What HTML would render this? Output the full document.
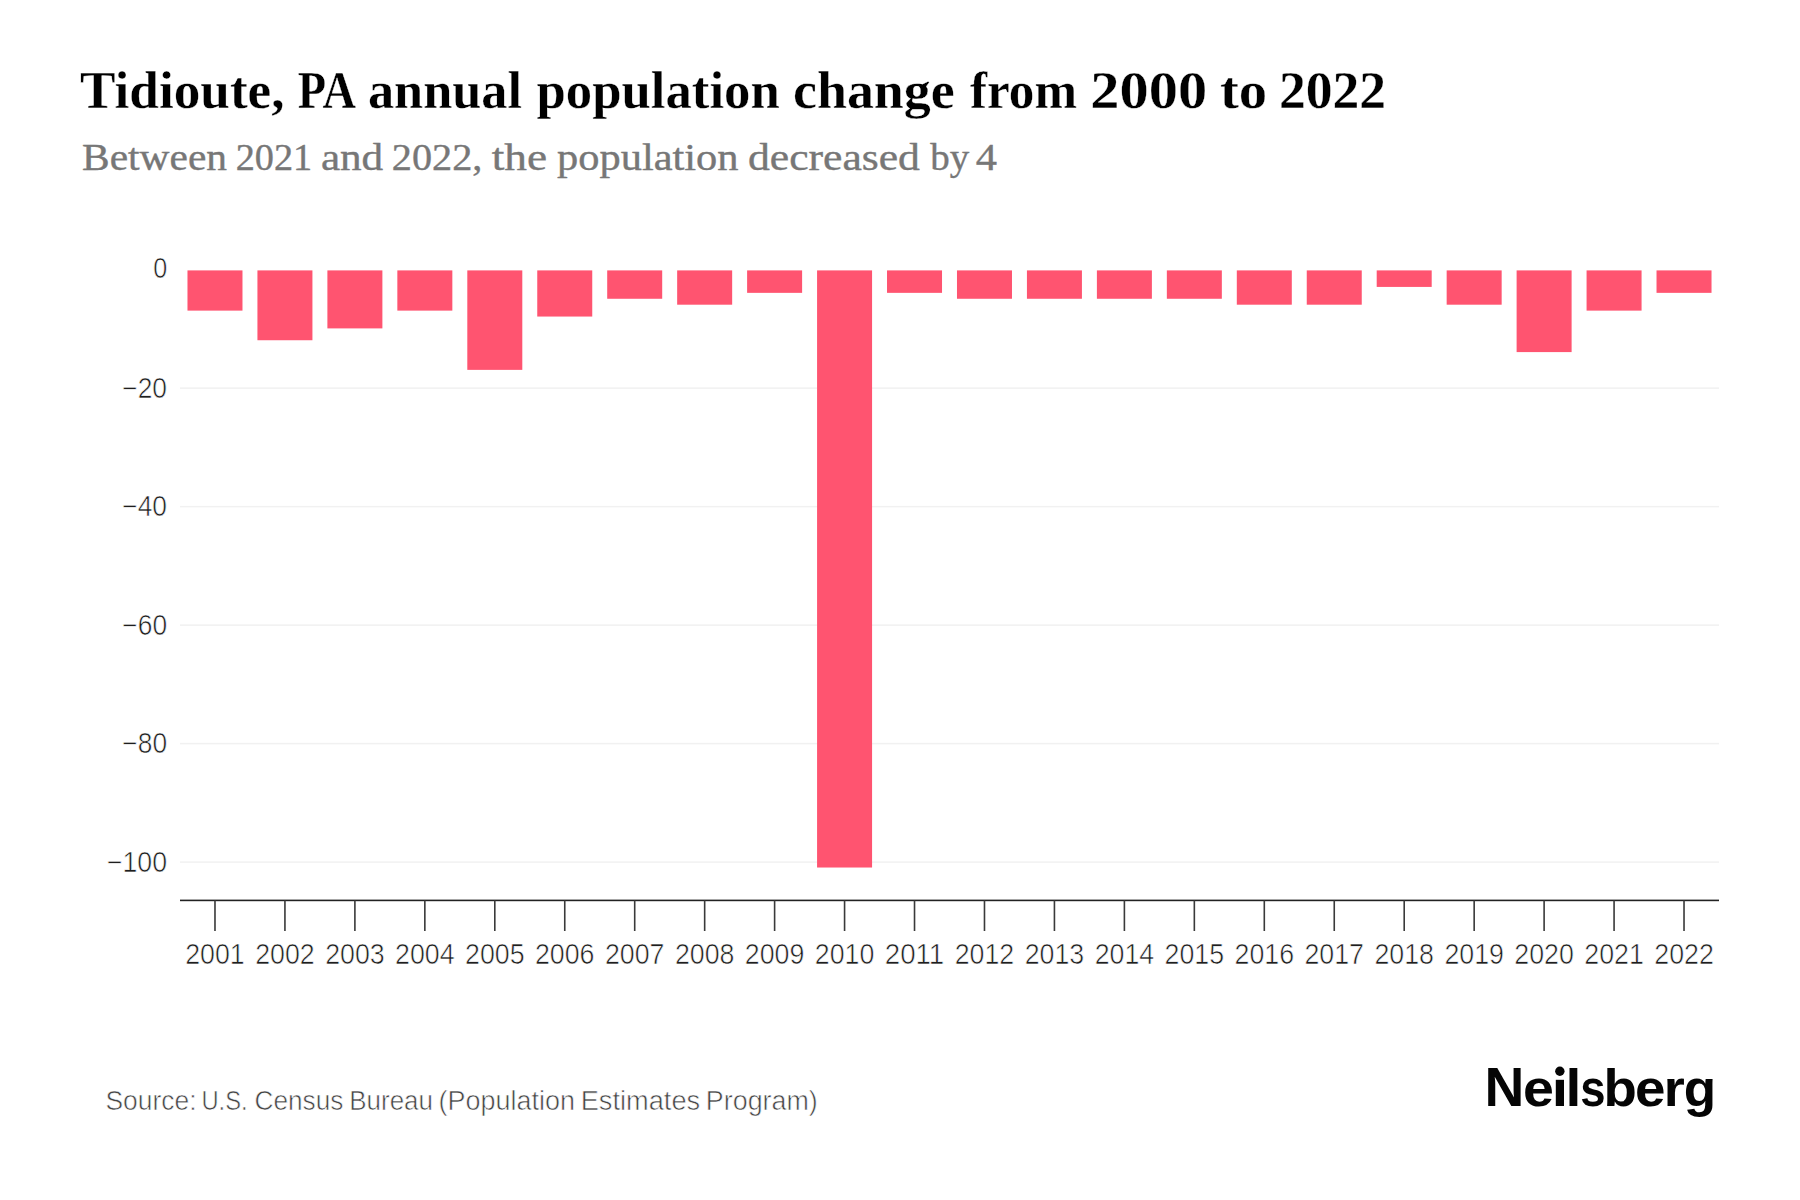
<!DOCTYPE html>
<html><head><meta charset="utf-8"><style>
html,body{margin:0;padding:0;background:#fff;}
body{width:1800px;height:1200px;overflow:hidden;}
svg{display:block;}
.xl,.yl{font-family:"Liberation Sans",sans-serif;font-size:28.8px;fill:#1e1e1e;stroke:#fff;stroke-width:0.6px;}
.title{font-family:"Liberation Serif",serif;font-weight:bold;font-size:52px;fill:#000;stroke:#fff;stroke-width:0.3px;}
.sub{font-family:"Liberation Serif",serif;font-size:38px;fill:#777;stroke:#777;stroke-width:0.4px;}
.src{font-family:"Liberation Sans",sans-serif;font-size:27px;fill:#444;stroke:#fff;stroke-width:0.6px;}
.logo{font-family:"Liberation Sans",sans-serif;font-weight:bold;font-size:52px;fill:#050505;}
</style></head><body>
<svg width="1800" height="1200" viewBox="0 0 1800 1200">
<rect width="1800" height="1200" fill="#fff"/>
<text x="79.98" y="108" class="title" textLength="204.56" lengthAdjust="spacingAndGlyphs">Tidioute,</text>
<text x="297.69" y="108" class="title" textLength="58.31" lengthAdjust="spacingAndGlyphs">PA</text>
<text x="367.97" y="108" class="title" textLength="154.05" lengthAdjust="spacingAndGlyphs">annual</text>
<text x="536.49" y="108" class="title" textLength="243.27" lengthAdjust="spacingAndGlyphs">population</text>
<text x="792.96" y="108" class="title" textLength="161.82" lengthAdjust="spacingAndGlyphs">change</text>
<text x="970.00" y="108" class="title" textLength="107.01" lengthAdjust="spacingAndGlyphs">from</text>
<text x="1090.37" y="108" class="title" textLength="116.70" lengthAdjust="spacingAndGlyphs">2000</text>
<text x="1219.93" y="108" class="title" textLength="47.22" lengthAdjust="spacingAndGlyphs">to</text>
<text x="1278.92" y="108" class="title" textLength="107.16" lengthAdjust="spacingAndGlyphs">2022</text>
<text x="82.07" y="170" class="sub" textLength="144.95" lengthAdjust="spacingAndGlyphs">Between</text>
<text x="235.70" y="170" class="sub" textLength="76.53" lengthAdjust="spacingAndGlyphs">2021</text>
<text x="320.93" y="170" class="sub" textLength="62.25" lengthAdjust="spacingAndGlyphs">and</text>
<text x="391.82" y="170" class="sub" textLength="90.50" lengthAdjust="spacingAndGlyphs">2022,</text>
<text x="491.72" y="170" class="sub" textLength="55.32" lengthAdjust="spacingAndGlyphs">the</text>
<text x="557.08" y="170" class="sub" textLength="181.44" lengthAdjust="spacingAndGlyphs">population</text>
<text x="747.98" y="170" class="sub" textLength="171.94" lengthAdjust="spacingAndGlyphs">decreased</text>
<text x="930.36" y="170" class="sub" textLength="38.95" lengthAdjust="spacingAndGlyphs">by</text>
<text x="975.86" y="170" class="sub" textLength="21.24" lengthAdjust="spacingAndGlyphs">4</text>
<text x="105.51" y="1110" class="src" textLength="91.02" lengthAdjust="spacingAndGlyphs">Source:</text>
<text x="201.48" y="1110" class="src" textLength="46.13" lengthAdjust="spacingAndGlyphs">U.S.</text>
<text x="254.51" y="1110" class="src" textLength="88.85" lengthAdjust="spacingAndGlyphs">Census</text>
<text x="349.27" y="1110" class="src" textLength="83.74" lengthAdjust="spacingAndGlyphs">Bureau</text>
<text x="438.53" y="1110" class="src" textLength="136.43" lengthAdjust="spacingAndGlyphs">(Population</text>
<text x="580.67" y="1110" class="src" textLength="119.50" lengthAdjust="spacingAndGlyphs">Estimates</text>
<text x="705.86" y="1110" class="src" textLength="111.92" lengthAdjust="spacingAndGlyphs">Program)</text>
<text x="153.26" y="277.95" class="yl" textLength="14.00" lengthAdjust="spacingAndGlyphs">0</text>
<text x="122.34" y="397.64" class="yl" textLength="44.71" lengthAdjust="spacingAndGlyphs">−20</text>
<text x="122.34" y="516.13" class="yl" textLength="44.71" lengthAdjust="spacingAndGlyphs">−40</text>
<text x="122.35" y="634.62" class="yl" textLength="44.70" lengthAdjust="spacingAndGlyphs">−60</text>
<text x="122.35" y="753.11" class="yl" textLength="44.70" lengthAdjust="spacingAndGlyphs">−80</text>
<text x="106.91" y="871.6" class="yl" textLength="60.16" lengthAdjust="spacingAndGlyphs">−100</text>
<text x="1484.59" y="1106" class="logo" style="font-size:54.8px" textLength="39.83" lengthAdjust="spacingAndGlyphs">N</text>
<text x="1523.03" y="1106" class="logo" textLength="30.91" lengthAdjust="spacingAndGlyphs">e</text>
<text x="1565.41" y="1106" class="logo" textLength="15.86" lengthAdjust="spacingAndGlyphs">l</text>
<text x="1580.17" y="1106" class="logo" textLength="25.30" lengthAdjust="spacingAndGlyphs">s</text>
<text x="1603.63" y="1106" class="logo" textLength="33.36" lengthAdjust="spacingAndGlyphs">b</text>
<text x="1635.09" y="1106" class="logo" textLength="30.46" lengthAdjust="spacingAndGlyphs">e</text>
<text x="1663.83" y="1106" class="logo" textLength="21.04" lengthAdjust="spacingAndGlyphs">r</text>
<text x="1683.74" y="1106" class="logo" textLength="32.38" lengthAdjust="spacingAndGlyphs">g</text>
<rect x="180.0" y="387.39" width="1539.0" height="1.5" fill="#f1f1f1"/>
<rect x="180.0" y="505.88" width="1539.0" height="1.5" fill="#f1f1f1"/>
<rect x="180.0" y="624.37" width="1539.0" height="1.5" fill="#f1f1f1"/>
<rect x="180.0" y="742.86" width="1539.0" height="1.5" fill="#f1f1f1"/>
<rect x="180.0" y="861.35" width="1539.0" height="1.5" fill="#f1f1f1"/>
<rect x="187.48" y="270.40" width="55.0" height="40.22" fill="#FF5470"/>
<rect x="257.43" y="270.40" width="55.0" height="69.84" fill="#FF5470"/>
<rect x="327.39" y="270.40" width="55.0" height="58.00" fill="#FF5470"/>
<rect x="397.34" y="270.40" width="55.0" height="40.22" fill="#FF5470"/>
<rect x="467.30" y="270.40" width="55.0" height="99.47" fill="#FF5470"/>
<rect x="537.25" y="270.40" width="55.0" height="46.15" fill="#FF5470"/>
<rect x="607.20" y="270.40" width="55.0" height="28.37" fill="#FF5470"/>
<rect x="677.16" y="270.40" width="55.0" height="34.30" fill="#FF5470"/>
<rect x="747.11" y="270.40" width="55.0" height="22.45" fill="#FF5470"/>
<rect x="817.07" y="270.40" width="55.0" height="597.12" fill="#FF5470"/>
<rect x="887.02" y="270.40" width="55.0" height="22.45" fill="#FF5470"/>
<rect x="956.98" y="270.40" width="55.0" height="28.37" fill="#FF5470"/>
<rect x="1026.93" y="270.40" width="55.0" height="28.37" fill="#FF5470"/>
<rect x="1096.89" y="270.40" width="55.0" height="28.37" fill="#FF5470"/>
<rect x="1166.84" y="270.40" width="55.0" height="28.37" fill="#FF5470"/>
<rect x="1236.80" y="270.40" width="55.0" height="34.30" fill="#FF5470"/>
<rect x="1306.75" y="270.40" width="55.0" height="34.30" fill="#FF5470"/>
<rect x="1376.70" y="270.40" width="55.0" height="16.52" fill="#FF5470"/>
<rect x="1446.66" y="270.40" width="55.0" height="34.30" fill="#FF5470"/>
<rect x="1516.61" y="270.40" width="55.0" height="81.69" fill="#FF5470"/>
<rect x="1586.57" y="270.40" width="55.0" height="40.22" fill="#FF5470"/>
<rect x="1656.52" y="270.40" width="55.0" height="22.45" fill="#FF5470"/>
<rect x="180.0" y="899.60" width="1539.0" height="1.6" fill="#222"/>
<rect x="214.18" y="900.4" width="1.6" height="30.60" fill="#3a3a3a"/>
<text x="214.98" y="964" text-anchor="middle" class="xl" textLength="59.5" lengthAdjust="spacingAndGlyphs">2001</text>
<rect x="284.13" y="900.4" width="1.6" height="30.60" fill="#3a3a3a"/>
<text x="284.93" y="964" text-anchor="middle" class="xl" textLength="59.5" lengthAdjust="spacingAndGlyphs">2002</text>
<rect x="354.09" y="900.4" width="1.6" height="30.60" fill="#3a3a3a"/>
<text x="354.89" y="964" text-anchor="middle" class="xl" textLength="59.5" lengthAdjust="spacingAndGlyphs">2003</text>
<rect x="424.04" y="900.4" width="1.6" height="30.60" fill="#3a3a3a"/>
<text x="424.84" y="964" text-anchor="middle" class="xl" textLength="59.5" lengthAdjust="spacingAndGlyphs">2004</text>
<rect x="494.00" y="900.4" width="1.6" height="30.60" fill="#3a3a3a"/>
<text x="494.80" y="964" text-anchor="middle" class="xl" textLength="59.5" lengthAdjust="spacingAndGlyphs">2005</text>
<rect x="563.95" y="900.4" width="1.6" height="30.60" fill="#3a3a3a"/>
<text x="564.75" y="964" text-anchor="middle" class="xl" textLength="59.5" lengthAdjust="spacingAndGlyphs">2006</text>
<rect x="633.90" y="900.4" width="1.6" height="30.60" fill="#3a3a3a"/>
<text x="634.70" y="964" text-anchor="middle" class="xl" textLength="59.5" lengthAdjust="spacingAndGlyphs">2007</text>
<rect x="703.86" y="900.4" width="1.6" height="30.60" fill="#3a3a3a"/>
<text x="704.66" y="964" text-anchor="middle" class="xl" textLength="59.5" lengthAdjust="spacingAndGlyphs">2008</text>
<rect x="773.81" y="900.4" width="1.6" height="30.60" fill="#3a3a3a"/>
<text x="774.61" y="964" text-anchor="middle" class="xl" textLength="59.5" lengthAdjust="spacingAndGlyphs">2009</text>
<rect x="843.77" y="900.4" width="1.6" height="30.60" fill="#3a3a3a"/>
<text x="844.57" y="964" text-anchor="middle" class="xl" textLength="59.5" lengthAdjust="spacingAndGlyphs">2010</text>
<rect x="913.72" y="900.4" width="1.6" height="30.60" fill="#3a3a3a"/>
<text x="914.52" y="964" text-anchor="middle" class="xl" textLength="59.5" lengthAdjust="spacingAndGlyphs">2011</text>
<rect x="983.68" y="900.4" width="1.6" height="30.60" fill="#3a3a3a"/>
<text x="984.48" y="964" text-anchor="middle" class="xl" textLength="59.5" lengthAdjust="spacingAndGlyphs">2012</text>
<rect x="1053.63" y="900.4" width="1.6" height="30.60" fill="#3a3a3a"/>
<text x="1054.43" y="964" text-anchor="middle" class="xl" textLength="59.5" lengthAdjust="spacingAndGlyphs">2013</text>
<rect x="1123.59" y="900.4" width="1.6" height="30.60" fill="#3a3a3a"/>
<text x="1124.39" y="964" text-anchor="middle" class="xl" textLength="59.5" lengthAdjust="spacingAndGlyphs">2014</text>
<rect x="1193.54" y="900.4" width="1.6" height="30.60" fill="#3a3a3a"/>
<text x="1194.34" y="964" text-anchor="middle" class="xl" textLength="59.5" lengthAdjust="spacingAndGlyphs">2015</text>
<rect x="1263.50" y="900.4" width="1.6" height="30.60" fill="#3a3a3a"/>
<text x="1264.30" y="964" text-anchor="middle" class="xl" textLength="59.5" lengthAdjust="spacingAndGlyphs">2016</text>
<rect x="1333.45" y="900.4" width="1.6" height="30.60" fill="#3a3a3a"/>
<text x="1334.25" y="964" text-anchor="middle" class="xl" textLength="59.5" lengthAdjust="spacingAndGlyphs">2017</text>
<rect x="1403.40" y="900.4" width="1.6" height="30.60" fill="#3a3a3a"/>
<text x="1404.20" y="964" text-anchor="middle" class="xl" textLength="59.5" lengthAdjust="spacingAndGlyphs">2018</text>
<rect x="1473.36" y="900.4" width="1.6" height="30.60" fill="#3a3a3a"/>
<text x="1474.16" y="964" text-anchor="middle" class="xl" textLength="59.5" lengthAdjust="spacingAndGlyphs">2019</text>
<rect x="1543.31" y="900.4" width="1.6" height="30.60" fill="#3a3a3a"/>
<text x="1544.11" y="964" text-anchor="middle" class="xl" textLength="59.5" lengthAdjust="spacingAndGlyphs">2020</text>
<rect x="1613.27" y="900.4" width="1.6" height="30.60" fill="#3a3a3a"/>
<text x="1614.07" y="964" text-anchor="middle" class="xl" textLength="59.5" lengthAdjust="spacingAndGlyphs">2021</text>
<rect x="1683.22" y="900.4" width="1.6" height="30.60" fill="#3a3a3a"/>
<text x="1684.02" y="964" text-anchor="middle" class="xl" textLength="59.5" lengthAdjust="spacingAndGlyphs">2022</text>
<circle cx="1559.85" cy="1071.3" r="4.7" fill="#050505"/>
<rect x="1555.8" y="1079.8" width="8.2" height="26.2" fill="#050505"/>
</svg>
</body></html>
